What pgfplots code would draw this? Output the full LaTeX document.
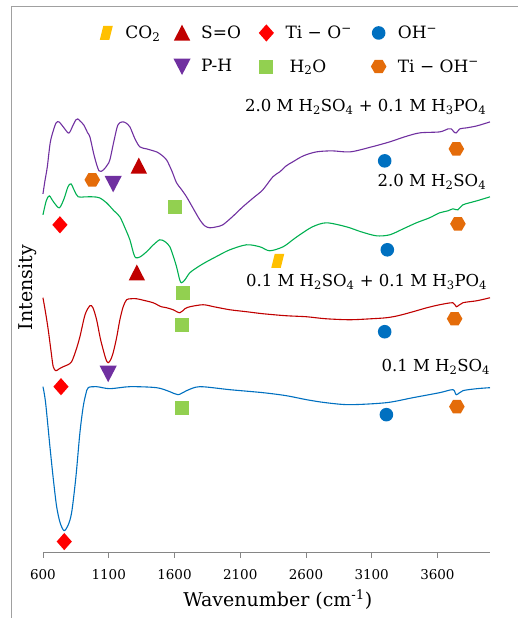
\documentclass[border=0pt]{standalone}
\usepackage{fontspec}
\setmainfont{DejaVu Serif}
\usepackage{pgfplots}
\pgfplotsset{compat=1.18}
\definecolor{cpurple}{HTML}{7030A0}
\definecolor{cgreen}{HTML}{00B050}
\definecolor{cdred}{HTML}{C00000}
\definecolor{cblue}{HTML}{0070C0}
\definecolor{cred}{HTML}{FF0000}
\definecolor{clgreen}{HTML}{92D050}
\definecolor{corange}{HTML}{E46C0A}
\definecolor{cyellow}{HTML}{FFC000}
\definecolor{axgray}{HTML}{868686}
\definecolor{framegray}{HTML}{A0A0A0}

\pgfdeclareplotmark{myhex}{%
  \pgfsetcornersarced{\pgfpoint{1.2bp}{1.2bp}}%
  \pgfpathmoveto{\pgfpoint{7.8bp}{0bp}}%
  \pgfpathlineto{\pgfpoint{3.9bp}{6.7bp}}%
  \pgfpathlineto{\pgfpoint{-3.9bp}{6.7bp}}%
  \pgfpathlineto{\pgfpoint{-7.8bp}{0bp}}%
  \pgfpathlineto{\pgfpoint{-3.9bp}{-6.7bp}}%
  \pgfpathlineto{\pgfpoint{3.9bp}{-6.7bp}}%
  \pgfpathclose\pgfusepathqfill}
\pgfdeclareplotmark{mypar}{%
  \pgfsetcornersarced{\pgfpoint{1.5bp}{1.5bp}}%
  \pgfpathmoveto{\pgfpoint{-6.5bp}{-7bp}}%
  \pgfpathlineto{\pgfpoint{3bp}{-7bp}}%
  \pgfpathlineto{\pgfpoint{6.5bp}{7bp}}%
  \pgfpathlineto{\pgfpoint{-3bp}{7bp}}%
  \pgfpathclose\pgfusepathqfill}
\pgfdeclareplotmark{mytriu}{%
  \pgfsetcornersarced{\pgfpoint{1.5bp}{1.5bp}}%
  \pgfpathmoveto{\pgfpoint{0bp}{8.3bp}}%
  \pgfpathlineto{\pgfpoint{8.2bp}{-7.7bp}}%
  \pgfpathlineto{\pgfpoint{-8.2bp}{-7.7bp}}%
  \pgfpathclose\pgfusepathqfill}
\pgfdeclareplotmark{mytrid}{%
  \pgfsetcornersarced{\pgfpoint{1.5bp}{1.5bp}}%
  \pgfpathmoveto{\pgfpoint{0bp}{-8.5bp}}%
  \pgfpathlineto{\pgfpoint{8.6bp}{8bp}}%
  \pgfpathlineto{\pgfpoint{-8.6bp}{8bp}}%
  \pgfpathclose\pgfusepathqfill}
\pgfdeclareplotmark{mydia}{%
  \pgfsetcornersarced{\pgfpoint{1.2bp}{1.2bp}}%
  \pgfpathmoveto{\pgfpoint{0bp}{8.6bp}}%
  \pgfpathlineto{\pgfpoint{7.6bp}{0bp}}%
  \pgfpathlineto{\pgfpoint{0bp}{-8.6bp}}%
  \pgfpathlineto{\pgfpoint{-7.6bp}{0bp}}%
  \pgfpathclose\pgfusepathqfill}
\pgfdeclareplotmark{mysq}{%
  \pgfsetcornersarced{\pgfpoint{1.5bp}{1.5bp}}%
  \pgfpathmoveto{\pgfpoint{-7bp}{-7bp}}%
  \pgfpathlineto{\pgfpoint{7bp}{-7bp}}%
  \pgfpathlineto{\pgfpoint{7bp}{7bp}}%
  \pgfpathlineto{\pgfpoint{-7bp}{7bp}}%
  \pgfpathclose\pgfusepathqfill}
\pgfdeclareplotmark{mycirc}{%
  \pgfpathcircle{\pgfpointorigin}{6.8bp}\pgfusepathqfill}

\pgfplotsset{mylegimg/.style={legend image code/.code={%
  \path (0bp,0bp) (27bp,0bp);
  \draw[##1] plot coordinates {(8bp,0bp)};}}}

\newcommand{\labfont}{\fontsize{16.5bp}{20bp}\selectfont}
\newcommand{\legfont}{\fontsize{17bp}{20bp}\selectfont}

\begin{document}
\begin{tikzpicture}
\path (-43bp,-65bp) rectangle (475bp,553bp);
\draw[framegray, line width=1bp] (-31bp,-65bp) -- (-31bp,546bp) -- (475bp,546bp);
\begin{axis}[
  at={(0,0)}, anchor=south west,
  scale only axis, width=447.4bp, height=545bp,
  xmin=600, xmax=4000, ymin=0, ymax=545,
  clip=false,
  axis x line=bottom, axis y line=none,
  x axis line style={-, axgray, line width=0.8bp},
  xtick={600,1100,1600,2100,2600,3100,3600},
  xticklabels={600,1100,1600,2100,2600,3100,3600},
  xtick style={axgray, line width=0.8bp},
  tick align=outside, major tick length=5bp,
  xticklabel style={font=\fontsize{13.5bp}{16bp}\selectfont, text=black, yshift=-8bp},
  legend columns=4,
  legend cell align=left,
  legend style={draw=none, fill=none, at={(0.1229,0.9703)}, anchor=north west,
    font=\legfont, inner sep=0bp, nodes={inner sep=0bp}, column sep=0bp, row sep=17bp},
]
% 2.0 M H2SO4 + 0.1 M H3PO4
\addplot[cpurple, line width=1.1bp, smooth, tension=0.5, forget plot] coordinates {
(600,359) (615,372) (633,386) (655,410) (678,422) (700,430) (722,431) (760,425) (790,420) (805,421) (830,428) (850,433) (864,434) (881,432) (910,428) (940,420) (957,416) (990,397) (1026,382) (1060,383) (1090,388) (1109,393) (1140,412) (1170,428) (1203,431) (1230,430) (1261,426) (1300,414) (1337,406) (1388,404) (1464,401) (1500,398) (1540,393) (1580,382) (1616,370) (1650,364) (1692,356) (1740,345) (1793,333) (1830,327) (1869,325) (1920,326) (1968,328) (2040,336) (2120,346) (2200,355) (2272,363) (2348,376) (2401,381) (2450,387) (2500,391) (2580,397) (2680,401) (2800,402) (2937,401) (3100,406) (3237,411) (3350,416) (3465,420) (3617,421) (3680,424) (3706,424) (3725,421) (3744,420) (3770,424) (3820,425) (3900,427) (4000,431)};
% 2.0 M H2SO4
\addplot[cgreen, line width=1.1bp, smooth, tension=0.5, forget plot] coordinates {
(600,338) (625,352) (648,357) (680,351) (724,345) (760,354) (790,366) (813,369) (840,362) (868,356) (920,356) (982,356) (1030,355) (1084,350) (1140,342) (1185,336) (1230,323) (1261,313) (1290,299) (1307,295) (1340,296) (1388,301) (1440,308) (1489,313) (1530,311) (1565,306) (1595,295) (1616,286) (1640,273) (1654,270) (1680,273) (1717,280) (1780,286) (1844,291) (1930,297) (2021,303) (2148,308) (2250,306) (2325,302) (2426,306) (2500,313) (2553,318) (2650,326) (2756,330) (2908,326) (3020,321) (3136,317) (3237,318) (3340,324) (3440,330) (3540,335) (3617,340) (3680,342) (3718,344) (3756,343) (3794,348) (3900,352) (4000,356)};
% 0.1 M H2SO4 + 0.1 M H3PO4
\addplot[cdred, line width=1.1bp, smooth, tension=0.5, forget plot] coordinates {
(600,255) (620,240) (640,223) (660,203) (678,186) (699,182) (725,184) (754,186) (790,188) (818,191) (850,202) (881,216) (920,238) (957,247) (980,245) (1008,233) (1035,215) (1058,203) (1080,193) (1096,190) (1115,193) (1134,200) (1160,215) (1185,233) (1210,246) (1236,253) (1270,254) (1312,254) (1380,252) (1438,250) (1500,246) (1540,245) (1590,243) (1641,240) (1680,244) (1717,246) (1818,248) (1900,246) (2021,243) (2150,241) (2274,239) (2450,237) (2604,236) (2750,234) (2933,233) (3100,234) (3212,235) (3300,237) (3414,241) (3520,245) (3617,248) (3718,250) (3744,246) (3794,250) (3900,252) (4000,255)};
% 0.1 M H2SO4
\addplot[cblue, line width=1.1bp, smooth, tension=0.5, forget plot] coordinates {
(600,166) (620,150) (653,106) (680,72) (704,46) (730,30) (760,22) (790,27) (818,40) (850,75) (881,120) (906,146) (925,158) (944,165) (1008,166) (1109,164) (1261,166) (1464,165) (1565,161) (1628,158) (1692,162) (1793,166) (2021,163) (2274,160) (2450,157) (2604,153) (2750,150) (2933,148) (3212,150) (3414,155) (3617,160) (3718,163) (3744,158) (3794,162) (3900,164) (4000,165)};
% markers
\addplot[only marks, mark=mypar, cyellow, mylegimg] coordinates {(2386,292)};
\addlegendentry{\makebox[48bp][l]{CO\textsubscript{2}}}
\addplot[only marks, mark=mytriu, cdred, mylegimg] coordinates {(1329,387) (1314,280)};
\addlegendentry{\makebox[57bp][l]{S=O}}
\addplot[only marks, mark=mydia, cred, mylegimg] coordinates {(729,328) (737,166) (762,11)};
\addlegendentry{\makebox[85bp][l]{Ti − O\textsuperscript{−}}}
\addplot[only marks, mark=mycirc, cblue, mylegimg] coordinates {(3199,392) (3219,303) (3199,221) (3212,138)};
\addlegendentry{\makebox[92bp][l]{OH\textsuperscript{−}}}
\addlegendimage{empty legend}
\addlegendentry{\makebox[48bp][l]{\strut}}
\addplot[only marks, mark=mytrid, cpurple, mylegimg] coordinates {(1134,369) (1096,179)};
\addlegendentry{\makebox[57bp][l]{P-H}}
\addplot[only marks, mark=mysq, clgreen, mylegimg] coordinates {(1603,346) (1662,260) (1659,228) (1659,145)};
\addlegendentry{\makebox[85bp][l]{\hspace{4bp}H\textsubscript{2}O}}
\addplot[only marks, mark=myhex, corange, mylegimg] coordinates {(975,373) (3744,404) (3756,329) (3731,234) (3748,146)};
\addlegendentry{\makebox[92bp][l]{Ti − OH\textsuperscript{−}}}
\end{axis}
\node[anchor=base east, font=\labfont] at (447bp,441bp) {2.0 M H\textsubscript{2}SO\textsubscript{4} + 0.1 M H\textsubscript{3}PO\textsubscript{4}};
\node[anchor=base east, font=\labfont] at (447bp,366bp) {2.0 M H\textsubscript{2}SO\textsubscript{4}};
\node[anchor=base east, font=\labfont] at (448bp,266bp) {0.1 M H\textsubscript{2}SO\textsubscript{4} + 0.1 M H\textsubscript{3}PO\textsubscript{4}};
\node[anchor=base east, font=\labfont] at (451bp,181bp) {0.1 M H\textsubscript{2}SO\textsubscript{4}};
\node[anchor=base, font=\fontsize{19bp}{22bp}\selectfont] at (235bp,-54bp) {Wavenumber (cm\textsuperscript{-1})};
\node[anchor=base, rotate=90, font=\fontsize{19bp}{22bp}\selectfont] at (-10.5bp,265bp) {Intensity};
\end{tikzpicture}
\end{document}
